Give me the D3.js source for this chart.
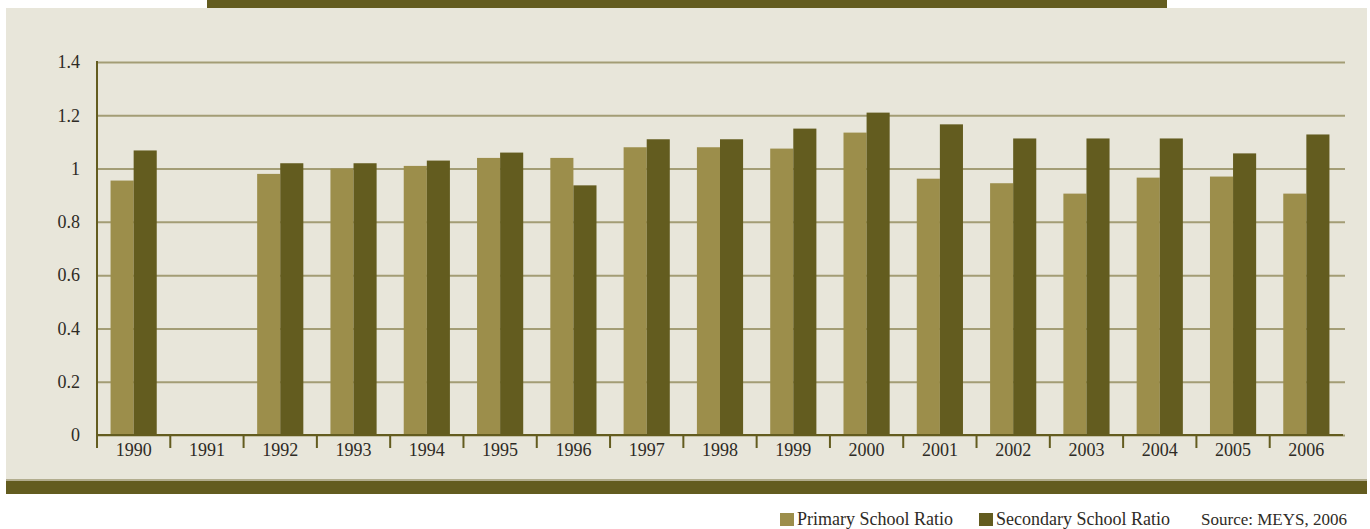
<!DOCTYPE html>
<html>
<head>
<meta charset="utf-8">
<script src="https://cdn.jsdelivr.net/npm/d3@7"></script>
<style>
  body { margin: 0; background: #fff; }
  svg { display: block; }
  text { font-family: "Liberation Serif", "DejaVu Serif", serif; fill: #2e2b25; }
</style>
</head>
<body>
<div id="chart"></div>
<script>
let width = 1370;
let height = 529;

let years = ['1990', '1991', '1992', '1993', '1994', '1995', '1996', '1997', '1998',
    '1999', '2000', '2001', '2002', '2003', '2004', '2005', '2006'];
let primaryRatio = [0.955, null, 0.98, 1.0, 1.01, 1.04, 1.04, 1.08, 1.08,
    1.075, 1.135, 0.962, 0.945, 0.906, 0.966, 0.97, 0.906];
let secondaryRatio = [1.068, null, 1.02, 1.02, 1.03, 1.06, 0.937, 1.11, 1.11,
    1.15, 1.21, 1.166, 1.113, 1.113, 1.113, 1.057, 1.128];
let yTicks = [0, 0.2, 0.4, 0.6, 0.8, 1, 1.2, 1.4];
let seriesNames = ['Primary School Ratio', 'Secondary School Ratio'];
let sourceNote = 'Source: MEYS, 2006';

let colours = {
    primary: '#9c8e4b',
    secondary: '#635c1f',
    panel: '#e8e6da',
    grid: '#a39d75',
    axis: '#635c1f',
}

let plot = {left: 97, right: 1343, top: 62, bottom: 435};

let svg = d3.select('#chart').append('svg')
    .attr('width', width)
    .attr('height', height);

// background panel, banner on top, band at the bottom
svg.append('rect')
    .attr('x', 6).attr('y', 8)
    .attr('width', 1361).attr('height', 472)
    .attr('fill', colours.panel);
svg.append('rect')
    .attr('x', 207).attr('y', 0)
    .attr('width', 960).attr('height', 8)
    .attr('fill', colours.axis);
svg.append('rect')
    .attr('x', 6).attr('y', 479)
    .attr('width', 1361).attr('height', 2)
    .attr('fill', '#b2ad8e');
svg.append('rect')
    .attr('x', 6).attr('y', 481)
    .attr('width', 1361).attr('height', 13)
    .attr('fill', colours.axis);

let x = d3.scaleBand()
    .domain(years)
    .range([plot.left, plot.right])
    .paddingInner(0.37)
    .paddingOuter(0.185);

let xSeries = d3.scaleBand()
    .domain(['primary', 'secondary'])
    .range([0, x.bandwidth()]);

let y = d3.scaleLinear()
    .domain([0, 1.4])
    .range([plot.bottom, plot.top]);

// gridlines + y labels
let yAxis = svg.append('g')
    .attr('transform', `translate(${plot.left}, 0)`)
    .call(d3.axisLeft(y)
        .tickValues(yTicks)
        .tickFormat(d3.format('~g'))
        .tickSize(-(plot.right - plot.left + 2))
        .tickPadding(17));
yAxis.select('.domain').remove();
yAxis.selectAll('line')
    .attr('stroke', colours.grid)
    .attr('stroke-width', 2);
yAxis.selectAll('text')
    .style('font-size', '18px')
    .attr('fill', '#2e2b25');

// bars
let groups = svg.append('g')
    .selectAll('g')
    .data(years)
    .join('g')
    .attr('transform', d => `translate(${x(d)}, 0)`);

groups.selectAll('rect')
    .data((d, i) => [
        {key: 'primary', value: primaryRatio[i]},
        {key: 'secondary', value: secondaryRatio[i]},
    ].filter(b => b.value != null))
    .join('rect')
    .attr('x', b => xSeries(b.key))
    .attr('width', xSeries.bandwidth())
    .attr('y', b => y(b.value))
    .attr('height', b => y(0) - y(b.value))
    .attr('fill', b => colours[b.key]);

// x axis: labels centered in the bands, ticks on the band boundaries
let xAxis = svg.append('g')
    .attr('transform', `translate(0, ${plot.bottom})`)
    .call(d3.axisBottom(x).tickSize(0).tickPadding(8));
xAxis.select('.domain').remove();
xAxis.selectAll('text')
    .style('font-size', '18px')
    .attr('fill', '#2e2b25');

let step = x.step();
svg.append('g')
    .selectAll('line')
    .data(years.slice(1))
    .join('line')
    .attr('x1', d => x(d) - step * x.paddingInner() / 2)
    .attr('x2', d => x(d) - step * x.paddingInner() / 2)
    .attr('y1', plot.bottom)
    .attr('y2', plot.bottom + 13)
    .attr('stroke', colours.axis)
    .attr('stroke-width', 2);

svg.append('line')
    .attr('x1', plot.left).attr('x2', plot.right)
    .attr('y1', plot.bottom).attr('y2', plot.bottom)
    .attr('stroke', colours.axis)
    .attr('stroke-width', 2);
svg.append('line')
    .attr('x1', plot.left).attr('x2', plot.left)
    .attr('y1', y(1.4) - 1).attr('y2', plot.bottom + 13)
    .attr('stroke', colours.axis)
    .attr('stroke-width', 2);

// legend + source, right aligned under the band
let legend = svg.append('g').attr('transform', 'translate(0, 525)');
let items = [
    {x: 780, name: seriesNames[0], colour: colours.primary},
    {x: 979, name: seriesNames[1], colour: colours.secondary},
];
for (let item of items) {
    legend.append('rect')
        .attr('x', item.x).attr('y', -12)
        .attr('width', 14).attr('height', 13)
        .attr('fill', item.colour);
    legend.append('text')
        .attr('x', item.x + 17)
        .style('font-size', '18px')
        .text(item.name);
}
legend.append('text')
    .attr('x', 1347)
    .attr('text-anchor', 'end')
    .style('font-size', '17px')
    .text(sourceNote);
</script>
</body>
</html>
